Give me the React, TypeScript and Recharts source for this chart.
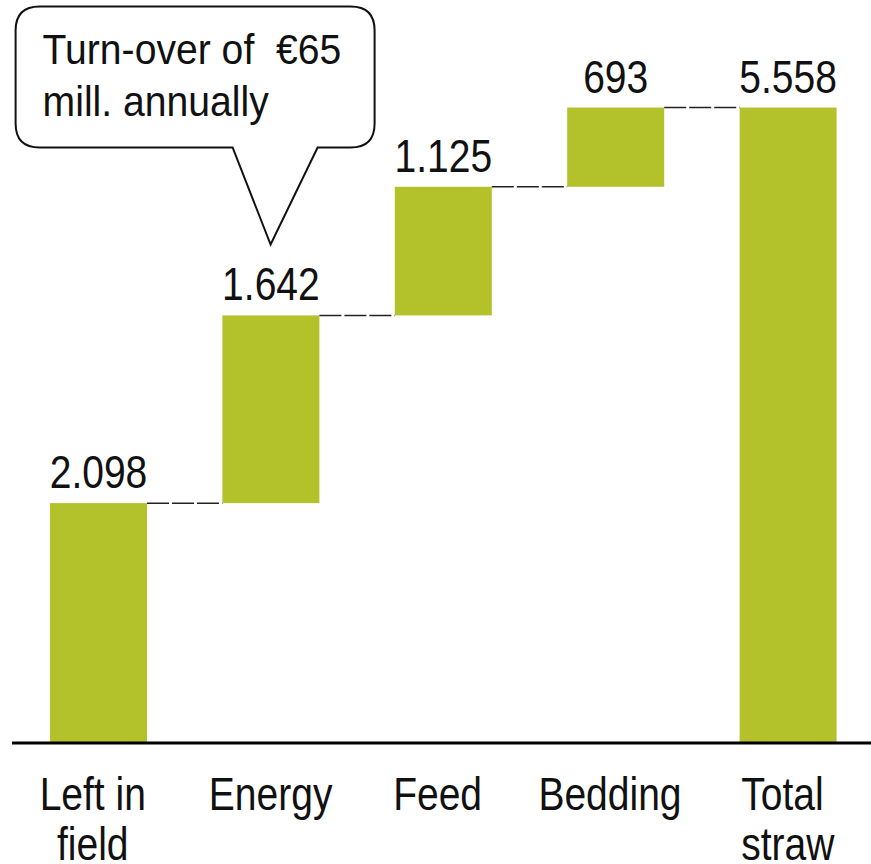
import React from 'react';
import { BarChart, Bar, XAxis, YAxis, ReferenceDot, LabelList } from 'recharts';

const categories = ['Left in field', 'Energy', 'Feed', 'Bedding', 'Total straw'];
const tickLines = [['Left in ', 'field '], ['Energy'], ['Feed '], ['Bedding '], ['Total ', 'straw']];
const deltas = [2098, 1642, 1125, 693, 5558];
const isTotal = [false, false, false, false, true];
const calloutLines = ['Turn-over of  €65', 'mill. annually'];
const calloutCategory = 'Energy';
const calloutTipValue = 4360;

const W = 874;
const H = 864;
const M_LEFT = 12;
const M_RIGHT = 0;
const BAR = 97;
const BAND = (W - M_LEFT - M_RIGHT) / categories.length;
const GAP = BAND - BAR;
const COLOR = '#B3C12B';
const FONT = "'Liberation Sans', Arial, sans-serif";

const fmt = (v: number) => v.toString().replace(/\B(?=(\d{3})+(?!\d))/g, '.');

let running = 0;
const data = categories.map((name, i) => {
  const base = isTotal[i] ? 0 : running;
  if (!isTotal[i]) running += deltas[i];
  return { name, base, value: deltas[i] };
});

const CText = ({ x, y, size, sx = 0.83, anchor = 'middle', children }: any) => (
  <text
    transform={`translate(${x} ${y}) scale(${sx} 1)`}
    x={0}
    y={0}
    textAnchor={anchor}
    fontFamily={FONT}
    fontSize={size}
    fill="#111"
    style={{ whiteSpace: 'pre' }}
  >
    {children}
  </text>
);

const BarShape = (props: any) => {
  const { x, y, width, height, index } = props;
  return (
    <g>
      <rect x={x} y={y} width={width} height={height} fill={COLOR} />
      {index < categories.length - 1 && (
        <line x1={x + width} x2={x + width + GAP} y1={y} y2={y} stroke="#222" strokeWidth={1.5} strokeDasharray="22 3" />
      )}
    </g>
  );
};

const ValueLabel = (props: any) => {
  const { x, y, width, value } = props;
  return <CText x={x + width / 2} y={y - 15} size={47}>{fmt(value)}</CText>;
};

const Tick = (props: any) => {
  const { x, y, payload } = props;
  const i = categories.indexOf(payload.value);
  const lines = tickLines[i] || [payload.value];
  return (
    <g>
      {lines.map((l, k) => (
        <CText key={k} x={x} y={y + 59 + k * 50} size={47}>{l}</CText>
      ))}
    </g>
  );
};

const Callout = (props: any) => {
  const { cx, cy } = props;
  const left = cx - 255;
  const right = cx + 104;
  const top = cy - 238;
  const bottom = cy - 97;
  const r = 24;
  const p1 = cx - 38;
  const p2 = cx + 47;
  const d = `M ${left + r} ${top} L ${right - r} ${top} Q ${right} ${top} ${right} ${top + r} L ${right} ${bottom - r} Q ${right} ${bottom} ${right - r} ${bottom} L ${p2} ${bottom} L ${cx} ${cy} L ${p1} ${bottom} L ${left + r} ${bottom} Q ${left} ${bottom} ${left} ${bottom - r} L ${left} ${top + r} Q ${left} ${top} ${left + r} ${top} Z`;
  return (
    <g>
      <path d={d} fill="#fff" stroke="#111" strokeWidth={2} />
      {calloutLines.map((l, k) => (
        <CText key={k} x={left + 27} y={top + 57 + k * 52} size={43} sx={0.91} anchor="start">{l}</CText>
      ))}
    </g>
  );
};

export default function App() {
  return (
    <div style={{ position: 'absolute', left: 0, top: 0, width: 871, height: 864, overflow: 'hidden', background: '#fff' }}>
      <BarChart width={W} height={H} data={data} margin={{ top: 57, right: M_RIGHT, left: M_LEFT, bottom: 0 }} barSize={BAR}>
        <XAxis dataKey="name" height={121} axisLine={{ stroke: '#000', strokeWidth: 3 }} tickLine={false} tick={<Tick />} interval={0} />
        <YAxis hide domain={[0, 6000]} allowDataOverflow />
        <Bar dataKey="base" stackId="a" fill="transparent" isAnimationActive={false} />
        <Bar dataKey="value" stackId="a" shape={<BarShape />} isAnimationActive={false}>
          <LabelList dataKey="value" content={<ValueLabel />} />
        </Bar>
        <ReferenceDot x={calloutCategory} y={calloutTipValue} ifOverflow="visible" shape={<Callout />} />
      </BarChart>
    </div>
  );
}
